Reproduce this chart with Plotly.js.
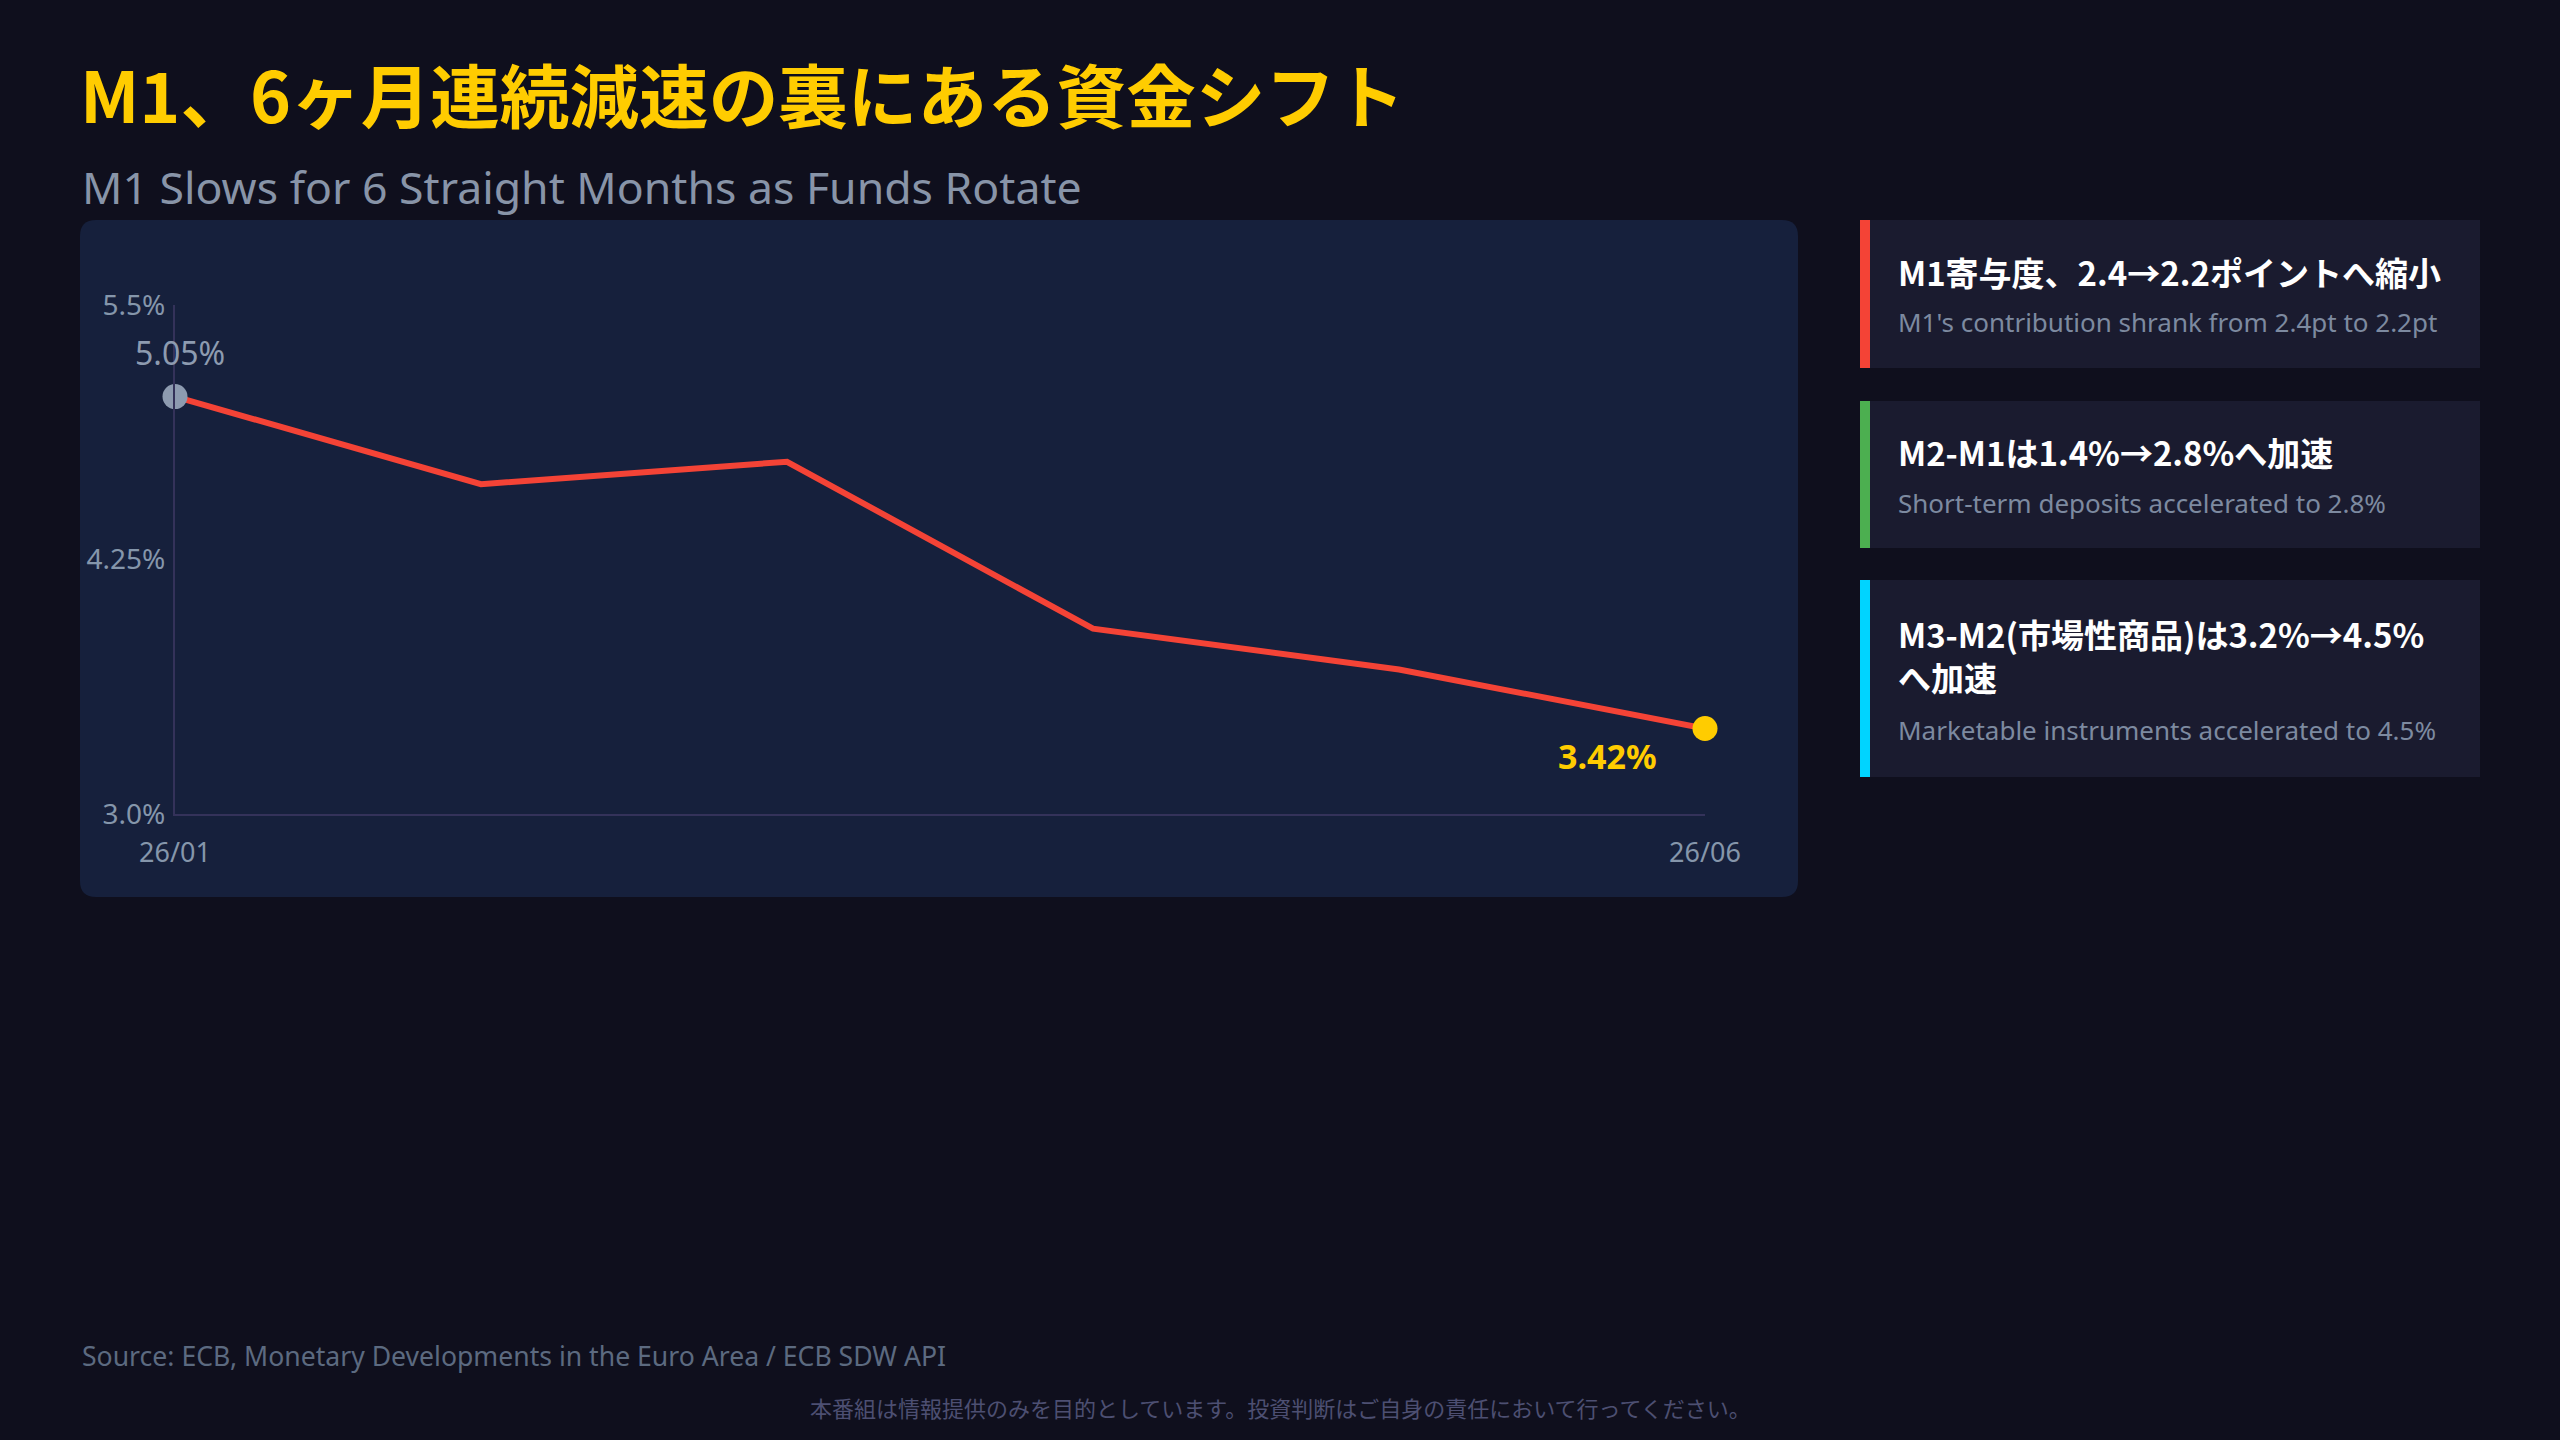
<!DOCTYPE html>
<html><head><meta charset="utf-8">
<script src="https://cdn.plot.ly/plotly-3.0.1.min.js"></script>
<style>html,body{margin:0;padding:0;background:#0f0f1d;}#chart{width:2560px;height:1440px;}</style>
</head><body><div id="chart"></div>
<script>
// ---- data ----
const months = ["26/01", "26/02", "26/03", "26/04", "26/05", "26/06"];
const m1Growth = [5.05, 4.62, 4.73, 3.91, 3.71, 3.42];
const yTickVals = [3.0, 4.25, 5.5];
const yTickText = ["3.0%", "4.25%", "5.5%"];
const xTickVals = ["26/01", "26/06"];
const titleText = "M1、6ヶ月連続減速の裏にある資金シフト";
const subtitleText = "M1 Slows for 6 Straight Months as Funds Rotate";
const cardTitles = ["M1寄与度、2.4→2.2ポイントへ縮小", "M2-M1は1.4%→2.8%へ加速", "M3-M2(市場性商品)は3.2%→4.5%<br>へ加速"];
const cardSubs = ["M1's contribution shrank from 2.4pt to 2.2pt", "Short-term deposits accelerated to 2.8%", "Marketable instruments accelerated to 4.5%"];
const cardColors = ["#f44336", "#4caf50", "#00d4ff"];
const sourceText = "Source: ECB, Monetary Developments in the Euro Area / ECB SDW API";
const disclaimerText = "本番組は情報提供のみを目的としています。投資判断はご自身の責任において行ってください。";

// ---- layout helpers (pixel -> paper) ----
const W = 2560, H = 1440;
const L = 175, R = 1705, T = 305, B = 814;
const X = px => (px - L) / (R - L);
const Y = py => (B - py) / (B - T);
const LATIN = "'Noto Sans', 'Noto Sans CJK JP', sans-serif";
const CJK = "'Noto Sans CJK JP', 'Noto Sans', sans-serif";

function roundRect(x0, y0, x1, y1, r) {
  const p = (x, y) => X(x) + "," + Y(y);
  return "M" + p(x0 + r, y0) + " L" + p(x1 - r, y0) + " Q" + p(x1, y0) + " " + p(x1, y0 + r) +
    " L" + p(x1, y1 - r) + " Q" + p(x1, y1) + " " + p(x1 - r, y1) +
    " L" + p(x0 + r, y1) + " Q" + p(x0, y1) + " " + p(x0, y1 - r) +
    " L" + p(x0, y0 + r) + " Q" + p(x0, y0) + " " + p(x0 + r, y0) + " Z";
}

const n = months.length;
const traces = [
  { x: months, y: m1Growth, type: "scatter", mode: "lines", cliponaxis: false,
    line: { color: "#f44336", width: 6 }, hoverinfo: "skip", showlegend: false },
  { x: [months[0]], y: [m1Growth[0]], type: "scatter", mode: "markers", cliponaxis: false,
    marker: { color: "#8d9bb0", size: 25 }, hoverinfo: "skip", showlegend: false },
  { x: [months[n - 1]], y: [m1Growth[n - 1]], type: "scatter", mode: "markers", cliponaxis: false,
    marker: { color: "#ffcc00", size: 25 }, hoverinfo: "skip", showlegend: false }
];

const shapes = [
  { type: "path", xref: "paper", yref: "paper", layer: "below",
    path: roundRect(80, 220, 1798, 897, 16), fillcolor: "#16203c", line: { width: 0 } }
];
const cardBoxes = [[220, 368], [401, 548], [580, 777]];
const annotations = [
  { xref: "paper", yref: "paper", x: X(80), y: Y(186), xanchor: "left", yanchor: "middle",
    text: subtitleText, showarrow: false, font: { family: LATIN, size: 44.6, color: "#8894a8" } },
  { xref: "x", yref: "y", x: months[0], y: m1Growth[0], xshift: 5, yshift: 44,
    text: m1Growth[0].toFixed(2) + "%", showarrow: false,
    font: { family: LATIN, size: 32, color: "#8d9bb0" } },
  { xref: "x", yref: "y", x: months[n - 1], y: m1Growth[n - 1], xshift: -98, yshift: -28,
    text: "<b>" + m1Growth[n - 1].toFixed(2) + "%</b>", showarrow: false,
    font: { family: LATIN, size: 34, color: "#ffcc00" } },
  { xref: "paper", yref: "paper", x: X(80), y: Y(1356), xanchor: "left", yanchor: "middle",
    text: sourceText, showarrow: false, font: { family: LATIN, size: 26.6, color: "#5c6a80" } },
  { xref: "paper", yref: "paper", x: X(1280), y: Y(1407), xanchor: "center", yanchor: "middle",
    text: disclaimerText, showarrow: false, font: { family: CJK, size: 22, color: "#4d4f72" } }
];
const headY = [272, 452, 655];
const subY = [322, 503, 730];
cardBoxes.forEach((b, i) => {
  shapes.push({ type: "rect", xref: "paper", yref: "paper", layer: "below",
    x0: X(1860), x1: X(2480), y0: Y(b[0]), y1: Y(b[1]), fillcolor: "#1a1b2f", line: { width: 0 } });
  shapes.push({ type: "rect", xref: "paper", yref: "paper", layer: "below",
    x0: X(1860), x1: X(1870), y0: Y(b[0]), y1: Y(b[1]), fillcolor: cardColors[i], line: { width: 0 } });
  annotations.push({ xref: "paper", yref: "paper", x: X(1896), y: Y(headY[i]), xanchor: "left", yanchor: "middle",
    align: "left", text: "<b>" + cardTitles[i] + "</b>", showarrow: false,
    font: { family: CJK, size: 33, color: "#ffffff" } });
  annotations.push({ xref: "paper", yref: "paper", x: X(1896), y: Y(subY[i]), xanchor: "left", yanchor: "middle",
    align: "left", text: cardSubs[i], showarrow: false,
    font: { family: LATIN, size: 26, color: "#7d8aa0" } });
});

const layout = {
  width: W, height: H, autosize: false,
  paper_bgcolor: "#0f0f1d", plot_bgcolor: "rgba(0,0,0,0)",
  margin: { l: L, r: W - R, t: T, b: H - B, pad: 0 },
  title: { text: "<b>" + titleText + "</b>", xref: "container", yref: "container",
    x: 80 / W, xanchor: "left", y: 1 - 99 / H, yanchor: "middle",
    font: { family: CJK, size: 69.6, color: "#ffcc00", weight: 900 } },
  xaxis: { type: "category", range: [0, n - 1], showgrid: false, zeroline: false,
    showline: true, linecolor: "#34325a", linewidth: 2,
    tickmode: "array", tickvals: xTickVals, ticks: "", ticklabelstandoff: 14,
    tickfont: { family: LATIN, size: 27, color: "#8596ab" } },
  yaxis: { range: [3.0, 5.5], showgrid: false, zeroline: false,
    showline: true, linecolor: "#34325a", linewidth: 2,
    tickmode: "array", tickvals: yTickVals, ticktext: yTickText, ticks: "", ticklabelstandoff: 2,
    tickfont: { family: LATIN, size: 28, color: "#8596ab" } },
  shapes: shapes, annotations: annotations, showlegend: false
};

Plotly.newPlot("chart", traces, layout, { displayModeBar: false, staticPlot: true });
</script>
</body></html>
